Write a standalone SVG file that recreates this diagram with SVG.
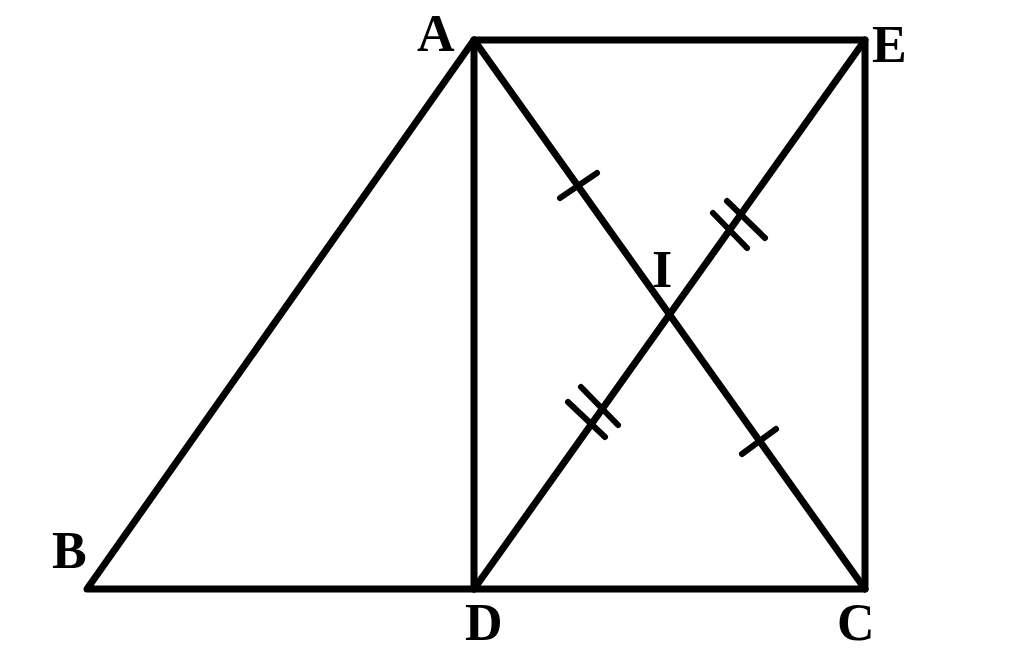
<svg xmlns="http://www.w3.org/2000/svg" width="1024" height="657" viewBox="0 0 1024 657">
<style>
.ln{fill:none;stroke:#000;stroke-width:7;stroke-linejoin:round;stroke-linecap:round}
.tk{fill:none;stroke:#000;stroke-width:6;stroke-linecap:round}
.lb{font-family:"Liberation Serif","Times New Roman",serif;font-weight:bold;font-size:52px;fill:#000}
</style>
<rect width="1024" height="657" fill="#fff"/>
<g id="connectors">
<path class="ln" d="M87,589 L474,40 L865,40 L865,589 Z"/>
<path class="ln" d="M474,40 L474,589"/>
<path class="ln" d="M474,40 L865,589"/>
<path class="ln" d="M474,589 L865,40"/>
<g id="ticks">
<path class="tk" d="M560,198 L597,173"/>
<path class="tk" d="M742,454 L776,429"/>
<path class="tk" d="M713,213 L747,248"/>
<path class="tk" d="M727,201 L765,238"/>
<path class="tk" d="M568,402 L605,437"/>
<path class="tk" d="M581,387 L618,425"/>
</g>
</g>
<g id="A"><text class="lb" x="417" y="51">A</text></g>
<g id="E"><text class="lb" x="872" y="62">E</text></g>
<g id="B"><text class="lb" x="52" y="568">B</text></g>
<g id="D"><text class="lb" x="465" y="640">D</text></g>
<g id="C"><text class="lb" x="837" y="640">C</text></g>
<g id="I"><text class="lb" x="652" y="287">I</text></g>
</svg>
